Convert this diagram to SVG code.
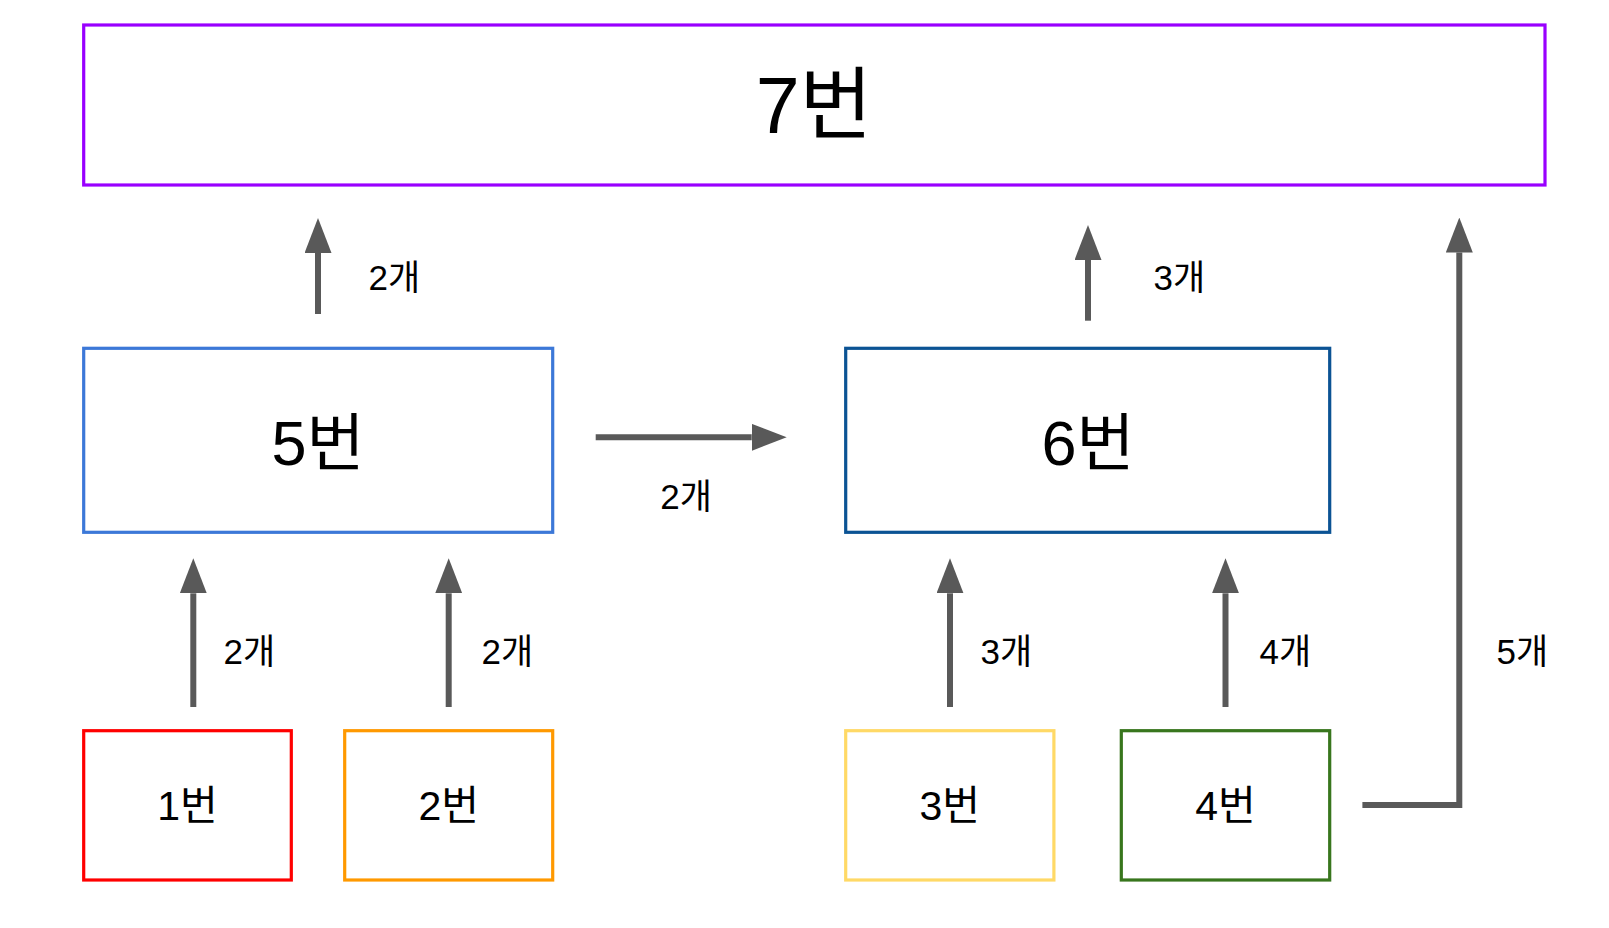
<svg xmlns="http://www.w3.org/2000/svg" width="1609" height="928" viewBox="0 0 1609 928">
<style>
.box{fill:#ffffff;stroke-width:3.2}
.t{font-family:"Liberation Sans","Noto Sans CJK KR",Arial,sans-serif;fill:#000000;text-anchor:middle}
.lbl{font-family:"Liberation Sans","Noto Sans CJK KR",Arial,sans-serif;fill:#000000;font-size:35px}
.c{fill:none;stroke:#595959;stroke-width:6;stroke-linejoin:miter;marker-end:url(#ah)}
</style>
<defs>
<marker id="ah" markerUnits="userSpaceOnUse" viewBox="0 0 35 27" refX="0" refY="13.5" markerWidth="35" markerHeight="27" orient="auto">
<path d="M0,0 L35,13.5 L0,27 Z" fill="#595959"/>
</marker>
</defs>
<rect width="1609" height="928" fill="#ffffff"/>
<g id="node7">
<rect class="box" x="83.7" y="25" width="1461.3" height="160" stroke="#9900ff"/>
<text class="t" x="814" y="133" font-size="79">7번</text>
</g>
<g id="node5">
<rect class="box" x="83.7" y="348.3" width="469" height="184" stroke="#3c78d8"/>
<text class="t" x="318" y="465" font-size="63">5번</text>
</g>
<g id="node6">
<rect class="box" x="845.7" y="348.3" width="484" height="184" stroke="#0b5394"/>
<text class="t" x="1088" y="465" font-size="63">6번</text>
</g>
<g id="node1">
<rect class="box" x="83.7" y="730.7" width="207.6" height="149.3" stroke="#ff0000"/>
<text class="t" x="187.5" y="819.5" font-size="41">1번</text>
</g>
<g id="node2">
<rect class="box" x="344.7" y="730.7" width="208" height="149.3" stroke="#ff9900"/>
<text class="t" x="448.7" y="819.5" font-size="41">2번</text>
</g>
<g id="node3">
<rect class="box" x="845.7" y="730.7" width="208.2" height="149.3" stroke="#ffd966"/>
<text class="t" x="949.8" y="819.5" font-size="41">3번</text>
</g>
<g id="node4">
<rect class="box" x="1121.3" y="730.7" width="208.4" height="149.3" stroke="#38761d"/>
<text class="t" x="1225.5" y="819.5" font-size="41">4번</text>
</g>
<g id="connectors">
<path class="c" d="M193.3,707 V593.3"/>
<path class="c" d="M448.7,707 V593.3"/>
<path class="c" d="M950,707 V593.3"/>
<path class="c" d="M1225.5,707 V593.3"/>
<path class="c" d="M318,314 V253"/>
<path class="c" d="M1088,320.7 V260"/>
<path class="c" d="M595.7,437.3 H751.7"/>
<path class="c" d="M1362.4,805 H1459.3 V252.5"/>
</g>
<g id="labels">
<text class="lbl" x="223.5" y="664">2개</text>
<text class="lbl" x="481.5" y="664">2개</text>
<text class="lbl" x="980.5" y="664">3개</text>
<text class="lbl" x="1259.5" y="664">4개</text>
<text class="lbl" x="1496.5" y="664">5개</text>
<text class="lbl" x="368.5" y="290">2개</text>
<text class="lbl" x="1153.5" y="290">3개</text>
<text class="lbl" x="660.2" y="508.5">2개</text>
</g>
</svg>
